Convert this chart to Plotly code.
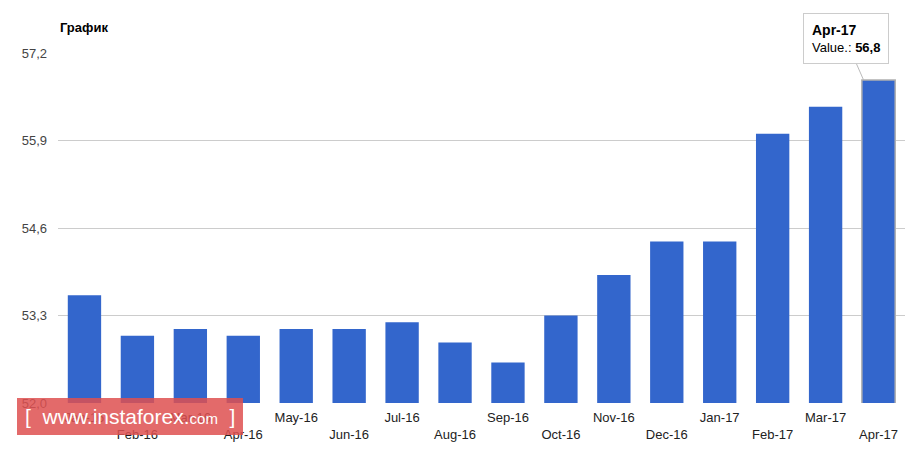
import plotly.graph_objects as go

months = ["Jan-16", "Feb-16", "Mar-16", "Apr-16", "May-16", "Jun-16", "Jul-16", "Aug-16",
          "Sep-16", "Oct-16", "Nov-16", "Dec-16", "Jan-17", "Feb-17", "Mar-17", "Apr-17"]
values = [53.6, 53.0, 53.1, 53.0, 53.1, 53.1, 53.2, 52.9,
          52.6, 53.3, 53.9, 54.4, 54.4, 56.0, 56.4, 56.8]
y_ticks = [52.0, 53.3, 54.6, 55.9, 57.2]
y_ticktext = ["52,0", "53,3", "54,6", "55,9", "57,2"]

tick_text = [m if i % 2 == 0 else "<br>" + m for i, m in enumerate(months)]
line_w = [0] * (len(months) - 1) + [1.5]

fig = go.Figure(go.Bar(
    x=months, y=values,
    marker=dict(color="#3366cc", line=dict(color="#b0b0b0", width=line_w)),
    hoverinfo="skip",
))

fig.update_layout(
    width=919, height=449,
    margin=dict(l=50, r=22, t=45, b=54, autoexpand=False),
    paper_bgcolor="white", plot_bgcolor="white",
    bargap=0.37,
    showlegend=False,
    font=dict(family="Arial, Liberation Sans, sans-serif", size=13, color="#222"),
    xaxis=dict(tickmode="array", tickvals=months, ticktext=tick_text,
               tickfont=dict(size=13, color="#222"), showgrid=False,
               showline=False, ticks="", ticklen=0, ticklabelstandoff=5, fixedrange=True),
    yaxis=dict(range=[52.0, 57.2], tickmode="array", tickvals=y_ticks, ticktext=y_ticktext,
               showgrid=True, gridcolor="#cccccc", gridwidth=1, zeroline=False,
               tickfont=dict(size=13, color="#444"), ticks="", ticklen=0,
               ticklabelstandoff=10, showline=False, fixedrange=True),
)

fig.add_annotation(
    xref="paper", yref="paper", x=0, y=1.0, yshift=16, xanchor="left", yanchor="bottom",
    text="<b>График</b>", showarrow=False, font=dict(size=13, color="#000"),
)

fig.add_annotation(
    x=months[-1], y=values[-1], xshift=-15,
    text="<b><span style='font-size:14px'>" + months[-1] + "</span></b><br>Value.: <b>"
         + f"{values[-1]:.1f}".replace(".", ",") + "</b>",
    showarrow=True, arrowhead=0, arrowcolor="#bbbbbb", arrowwidth=1,
    ax=-18, ay=-41, align="left",
    bgcolor="white", bordercolor="#cccccc", borderwidth=1, borderpad=8,
    font=dict(size=13, color="#000"),
)

fig.add_shape(type="rect", xref="paper", yref="paper",
              x0=-0.0484, x1=0.2184, y0=-0.0914, y1=0.0143, line=dict(width=0),
              fillcolor="rgba(222,80,80,0.85)", layer="above")
fig.add_annotation(
    xref="paper", yref="paper", x=0.085, y=-0.0386, xanchor="center", yanchor="middle",
    text="[  www.instaforex.<span style='font-size:15px'>com</span>  ]", showarrow=False,
    font=dict(size=21, color="white", family="Arial, Liberation Sans, sans-serif"),
)

fig.write_html("out.html")
